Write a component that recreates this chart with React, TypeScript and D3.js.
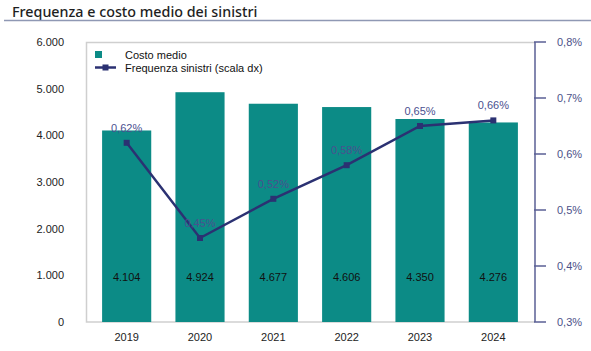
import React, { useRef, useEffect } from "react";
import * as d3 from "d3";

// dati
const anni = ["2019", "2020", "2021", "2022", "2023", "2024"];
const costoMedio = [4104, 4924, 4677, 4606, 4350, 4276];
const frequenza = [0.62, 0.45, 0.52, 0.58, 0.65, 0.66];
const tickSx = [0, 1000, 2000, 3000, 4000, 5000, 6000];
const tickDx = [0.3, 0.4, 0.5, 0.6, 0.7, 0.8];

const TEAL = "#0c8b86";
const NAVY = "#2b3172";
const AXIS_DX = "#5a5f94";

const fmtNum = (v: number) => d3.format(",")(v).replace(/,/g, ".");
const fmtPct = (v: number, d: number) => v.toFixed(d).replace(".", ",") + "%";

export default function App() {
  const ref = useRef<SVGSVGElement | null>(null);

  useEffect(() => {
    const svg = d3.select(ref.current);
    svg.selectAll("*").remove();

    const left = 86, right = 535, top = 42, bottom = 322;
    const font = "'Liberation Sans', Arial, sans-serif";

    const x = d3.scaleBand().domain(anni).range([90, 530]).paddingInner(0.33).paddingOuter(0.165);
    const y = d3.scaleLinear().domain([0, 6000]).range([bottom, top]);
    const y2 = d3.scaleLinear().domain([0.3, 0.8]).range([bottom, top]);

    // titolo
    svg.append("text").attr("x", 12).attr("y", 17)
      .style("font-family", "'Noto Sans', sans-serif").style("font-size", "14.3px")
      .style("font-weight", 500).attr("fill", "#1e1e1e")
      .text("Frequenza e costo medio dei sinistri");
    svg.append("line").attr("x1", 4).attr("x2", 591).attr("y1", 20.5).attr("y2", 20.5)
      .attr("stroke", "#8f98b4").attr("stroke-width", 1.5);

    // cornice
    svg.append("path")
      .attr("d", `M${right},${top + 0.5}H${left + 0.5}V${bottom}H${right}`)
      .attr("fill", "none").attr("stroke", "#cfcfcf").attr("stroke-width", 1.5);

    // barre
    svg.append("g").selectAll("rect").data(costoMedio).enter().append("rect")
      .attr("x", (d, i) => x(anni[i])!)
      .attr("y", (d) => y(d))
      .attr("width", x.bandwidth())
      .attr("height", (d) => bottom - y(d))
      .attr("fill", TEAL);

    svg.append("g").selectAll("text").data(costoMedio).enter().append("text")
      .attr("x", (d, i) => x(anni[i])! + x.bandwidth() / 2)
      .attr("y", 280.5)
      .attr("text-anchor", "middle")
      .style("font-family", font).style("font-size", "11px")
      .attr("fill", "#111").text((d) => fmtNum(d));

    // asse sinistro
    svg.append("g").selectAll("text").data(tickSx).enter().append("text")
      .attr("x", 64).attr("y", (d) => y(d) + 4)
      .attr("text-anchor", "end")
      .style("font-family", font).style("font-size", "11px")
      .attr("fill", "#222").text((d) => fmtNum(d));

    // asse x
    svg.append("g").selectAll("text").data(anni).enter().append("text")
      .attr("x", (d) => x(d)! + x.bandwidth() / 2).attr("y", 341)
      .attr("text-anchor", "middle")
      .style("font-family", font).style("font-size", "11px")
      .attr("fill", "#222").text((d) => d);

    // asse destro
    const gDx = svg.append("g");
    gDx.append("line").attr("x1", right).attr("x2", right).attr("y1", top).attr("y2", bottom)
      .attr("stroke", AXIS_DX).attr("stroke-width", 1.5);
    gDx.selectAll(".tk").data(tickDx).enter().append("line")
      .attr("x1", right - 1).attr("x2", 546)
      .attr("y1", (d) => y2(d)).attr("y2", (d) => y2(d))
      .attr("stroke", AXIS_DX).attr("stroke-width", 1.5);
    gDx.selectAll("text").data(tickDx).enter().append("text")
      .attr("x", 557).attr("y", (d) => y2(d) + 4)
      .style("font-family", font).style("font-size", "11px")
      .attr("fill", "#4b5088").text((d) => fmtPct(d, 1));

    // linea frequenza
    const line = d3.line<number>()
      .x((d, i) => x(anni[i])! + x.bandwidth() / 2)
      .y((d) => y2(d));
    svg.append("path").datum(frequenza).attr("d", line)
      .attr("fill", "none").attr("stroke", NAVY).attr("stroke-width", 2.5);
    svg.append("g").selectAll("rect").data(frequenza).enter().append("rect")
      .attr("x", (d, i) => x(anni[i])! + x.bandwidth() / 2 - 3)
      .attr("y", (d) => y2(d) - 3)
      .attr("width", 6).attr("height", 6).attr("fill", NAVY);
    svg.append("g").selectAll("text").data(frequenza).enter().append("text")
      .attr("x", (d, i) => x(anni[i])! + x.bandwidth() / 2)
      .attr("y", (d) => y2(d) - 11)
      .attr("text-anchor", "middle")
      .style("font-family", font).style("font-size", "11px")
      .attr("fill", "#4b5090").text((d) => fmtPct(d, 2));

    // legenda
    const leg = svg.append("g");
    leg.append("rect").attr("x", 95).attr("y", 51).attr("width", 7).attr("height", 7).attr("fill", TEAL);
    leg.append("text").attr("x", 125).attr("y", 58.5)
      .style("font-family", font).style("font-size", "11px").attr("fill", "#111").text("Costo medio");
    leg.append("line").attr("x1", 95).attr("x2", 116).attr("y1", 67.5).attr("y2", 67.5)
      .attr("stroke", NAVY).attr("stroke-width", 2.5);
    leg.append("rect").attr("x", 102.5).attr("y", 64.5).attr("width", 6).attr("height", 6).attr("fill", NAVY);
    leg.append("text").attr("x", 125).attr("y", 71.5)
      .style("font-family", font).style("font-size", "11px").attr("fill", "#111").text("Frequenza sinistri (scala dx)");
  }, []);

  return (
    <div style={{ position: "absolute", left: 0, top: 0 }}>
      <svg ref={ref} width={591} height={351} style={{ display: "block" }} />
    </div>
  );
}
